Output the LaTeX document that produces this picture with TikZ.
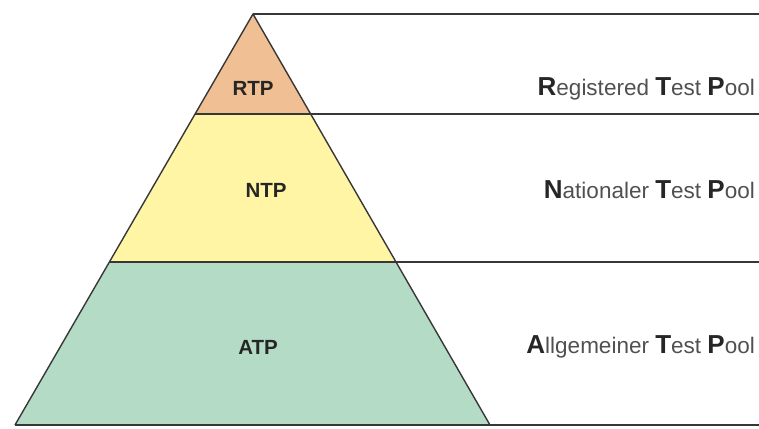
\documentclass[tikz,border=0pt]{standalone}
\usepackage{fontspec}
\setmainfont{Liberation Sans}
\usetikzlibrary{positioning}
\definecolor{rtpfill}{RGB}{240,192,148}
\definecolor{ntpfill}{RGB}{255,245,165}
\definecolor{atpfill}{RGB}{180,219,198}
\definecolor{rulegray}{RGB}{55,55,55}
\definecolor{textgray}{RGB}{80,80,80}
\tikzset{
  level/.style={draw=rulegray,line width=1.4pt,line join=round},
  rule/.style={draw=rulegray,line width=1.7pt},
  short/.style={font=\fontsize{20.5}{20.5}\selectfont\bfseries,text=black!85},
  long/.style={anchor=base east,inner sep=0pt,font=\fontsize{22.5}{22.5}\selectfont,text=textgray}
}
\newcommand{\poolcap}[1]{{\fontsize{26}{26}\selectfont\bfseries\color{black!85}#1}}

\begin{document}
\begin{tikzpicture}[x=1pt,y=-1pt]
  \useasboundingbox (0,0) rectangle (759,428);
  \coordinate (apex) at (253,14);
  \coordinate (rl) at (195,114);
  \coordinate (rr) at (311,114);
  \coordinate (nl) at (110,262);
  \coordinate (nr) at (396,262);
  \coordinate (al) at (15,425);
  \coordinate (ar) at (490,425);
  \coordinate (e0) at (759,14);
  \coordinate (e1) at (759,114);
  \coordinate (e2) at (759,262);
  \coordinate (e3) at (759,425);
  \fill[rtpfill] (apex) -- (rr) -- (rl) -- cycle;
  \fill[ntpfill] (rl) -- (rr) -- (nr) -- (nl) -- cycle;
  \fill[atpfill] (nl) -- (nr) -- (ar) -- (al) -- cycle;
  \draw[rule] (apex) -- (e0);
  \draw[rule] (rr) -- (e1);
  \draw[rule] (nr) -- (e2);
  \draw[rule] (al) -- (e3);
  \draw[level] (al) -- (apex) -- (ar);
  \draw[level] (rl) -- (rr);
  \draw[level] (nl) -- (nr);
  \node[short] (rtp) at (253,88) {RTP};
  \node[short] (ntp) at (266,190) {NTP};
  \node[short] (atp) at (258,347) {ATP};
  \node[long] (rtpname) at (755,95) {\poolcap{R}egistered \poolcap{T}est \poolcap{P}ool};
  \node[long] (ntpname) at (755,198) {\poolcap{N}ationaler \poolcap{T}est \poolcap{P}ool};
  \node[long] (atpname) at (755,353) {\poolcap{A}llgemeiner \poolcap{T}est \poolcap{P}ool};
\end{tikzpicture}
\end{document}
